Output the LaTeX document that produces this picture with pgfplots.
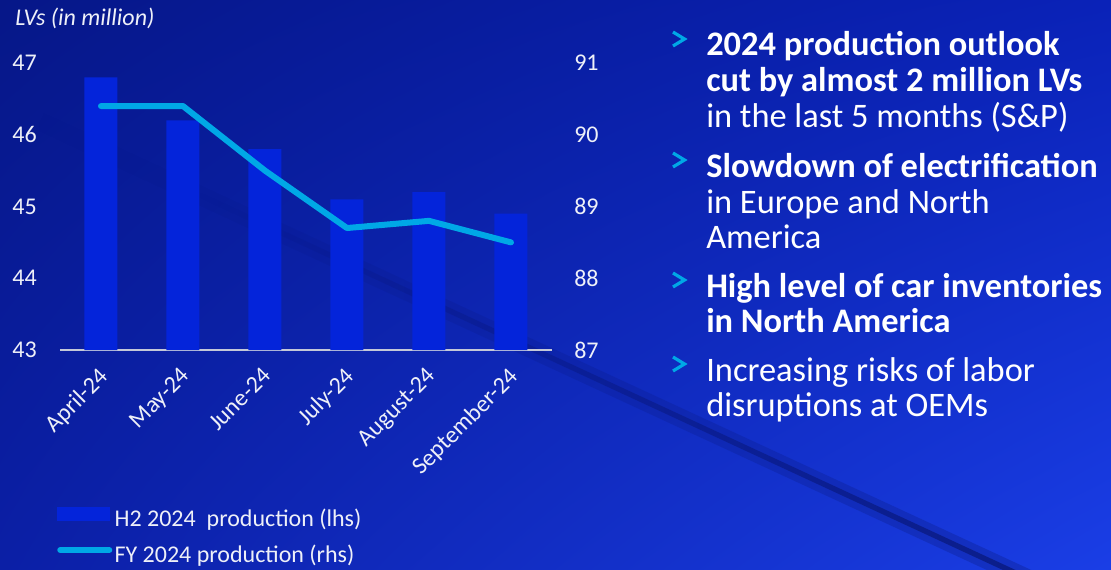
\documentclass[border=0pt]{standalone}
\usepackage{pgfplots}
\pgfplotsset{compat=1.18}
\usetikzlibrary{shadings,fadings}
\usepackage{fontspec}
\setmainfont{Carlito}
\definecolor{bgTL}{HTML}{061788}
\definecolor{bgTR}{HTML}{0A22B8}
\definecolor{bgBL}{HTML}{0B1FA6}
\definecolor{bgBR}{HTML}{1A3EE6}
\definecolor{bgDark}{HTML}{030A50}
\definecolor{barblue}{HTML}{0424DA}
\definecolor{linecyan}{HTML}{00A8E6}
\definecolor{axisgray}{HTML}{C4C8D8}
\definecolor{tickwhite}{HTML}{EEF0F8}
\newcommand{\tfont}{\fontsize{18}{21}\selectfont}
\newcommand{\bfont}{\fontsize{25.8}{27}\selectfont}
\begin{document}
\begin{tikzpicture}
\begin{scope}[x=0.75pt,y=0.75pt]
\shade[upper left=bgTL, upper right=bgTR, lower left=bgBL, lower right=bgBR] (0,0) rectangle (1111,569);
\begin{scope}
\clip (0,0) rectangle (1111,569);
\draw[bgDark, line width=14pt, opacity=0.22, path fading=west] (40,569-121) -- (1040,569-584);
\draw[bgDark, line width=4pt, opacity=0.5, path fading=west] (200,569-195) -- (1040,569-584);
\end{scope}
% title
\node[anchor=west, inner sep=0pt, text=tickwhite] at (15,569-18) {\tfont\itshape LVs (in million)};
% right-hand text
\foreach \yy/\txt in {56/{\bfseries 2024 production outlook}, 92/{\bfseries cut by almost 2 million LVs}, 128/{in the last 5 months (S\&P)}, 177/{\bfseries Slowdown of electrification}, 213/{in Europe and North}, 248/{America}, 297/{\bfseries High level of car inventories}, 332/{\bfseries in North America}, 381/{Increasing risks of labor}, 416/{disruptions at OEMs}}
  \node[anchor=base west, inner sep=0pt, text=white] at (706,569-\yy) {\bfont \txt};
\foreach \yy in {56,177,297,381}
  \draw[linecyan, line width=2.4pt, line join=miter] (673,569-\yy+24) -- (684.5,569-\yy+17) -- (673,569-\yy+10);
\end{scope}

\begin{axis}[
  at={(45pt,164.25pt)}, anchor=south west, scale only axis,
  width=369pt, height=215.25pt,
  xmin=-0.5, xmax=5.5, ymin=43, ymax=47,
  ytick={43,44,45,46,47},
  xtick={0,1,2,3,4,5},
  xticklabels={April-24,May-24,June-24,July-24,August-24,September-24},
  axis x line*=bottom, axis y line*=left,
  x axis line style={draw=axisgray, line width=1.5pt, -},
  y axis line style={draw=none},
  major tick length=0pt, tick style={draw=none},
  ticklabel style={font=\tfont, text=tickwhite},
  /pgf/number format/assume math mode=true,
  yticklabel style={anchor=east, inner sep=0pt, xshift=-17.25pt},
  xticklabel style={inner sep=0pt, xshift=-2.6pt, yshift=-12pt, rotate=45, anchor=north east},
  ybar, bar width=24.75pt, bar shift=0pt,
]
\addplot[fill=barblue, draw=none] coordinates {(0,46.8) (1,46.2) (2,45.8) (3,45.1) (4,45.2) (5,44.9)};
\end{axis}

\begin{axis}[
  at={(45pt,164.25pt)}, anchor=south west, scale only axis,
  width=369pt, height=215.25pt,
  xmin=-0.5, xmax=5.5, ymin=87, ymax=91,
  ytick={87,88,89,90,91},
  hide x axis, axis y line*=right,
  y axis line style={draw=none},
  major tick length=0pt, tick style={draw=none},
  ticklabel style={font=\tfont, text=tickwhite},
  /pgf/number format/assume math mode=true,
  yticklabel style={anchor=west, inner sep=0pt, xshift=16.5pt},
  legend style={at={(-0.0061,-0.548)}, anchor=north west, draw=none, fill=none,
    inner sep=0pt, outer sep=0pt, font=\tfont, text=tickwhite, row sep=11pt,
    nodes={inner sep=0pt, text height=12pt, text depth=4pt},
    /tikz/every odd column/.style={column sep=1.75pt}},
  legend cell align=left,
]
\addlegendimage{legend image code/.code={\fill[barblue] (0pt,0.6pt) rectangle (39pt,10.4pt);}}
\addlegendentry{H2 2024\ \ production (lhs)}
\addplot[linecyan, line width=4.5pt, line cap=round, line join=round,
  legend image code/.code={\draw[linecyan, line width=4.5pt, line cap=round] (2.25pt,5.5pt) -- (39pt,5.5pt);}]
  coordinates {(0,90.4) (1,90.4) (2,89.5) (3,88.7) (4,88.8) (5,88.5)};
\addlegendentry{FY 2024 production (rhs)}
\end{axis}
\pgfresetboundingbox
\path[use as bounding box] (0,0) rectangle (833.25pt,426.75pt);
\end{tikzpicture}
\end{document}
